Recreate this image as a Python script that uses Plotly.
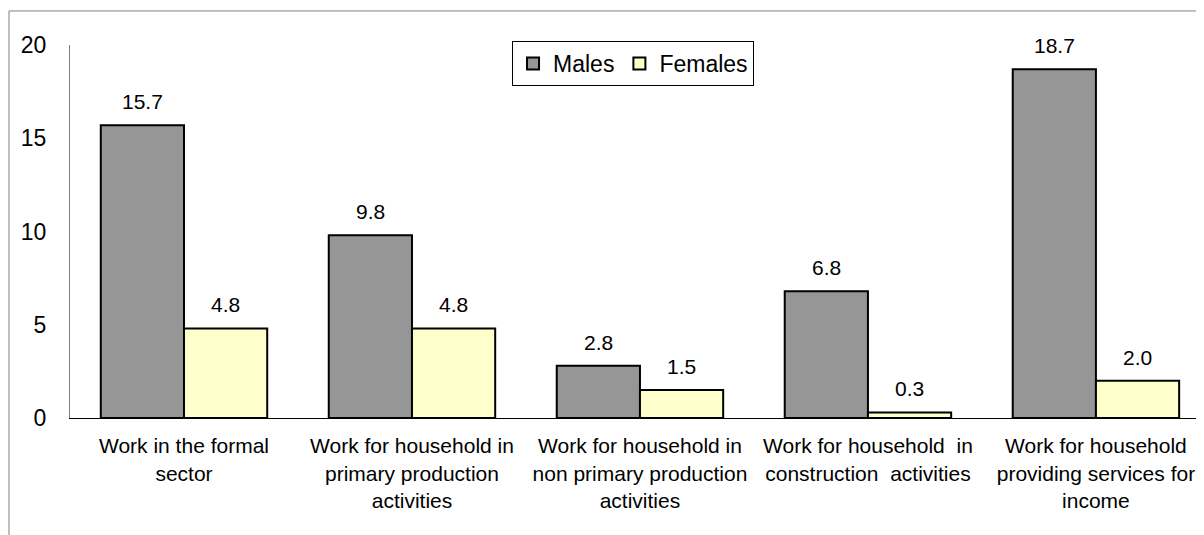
import plotly.graph_objects as go

categories = [
    "Work in the formal<br>sector",
    "Work for household in<br>primary production<br>activities",
    "Work for household in<br>non primary production<br>activities",
    "Work for household  in<br>construction  activities",
    "Work for household<br>providing services for<br>income",
]
males = [15.7, 9.8, 2.8, 6.8, 18.7]
females = [4.8, 4.8, 1.5, 0.3, 2.0]
y_ticks = [0, 5, 10, 15, 20]

FONT = "Liberation Sans, Arial, sans-serif"
BARGAP = 0.27
bar_w = (1 - BARGAP) / 2

fig = go.Figure()
fig.add_trace(go.Bar(
    x=list(range(len(categories))), y=males, name="Males",
    marker=dict(color="#969696", line=dict(color="black", width=2)),
))
fig.add_trace(go.Bar(
    x=list(range(len(categories))), y=females, name="Females",
    marker=dict(color="#FFFFCC", line=dict(color="black", width=2)),
))

# value labels above the bars
for i, (m, f) in enumerate(zip(males, females)):
    for val, off in ((m, -bar_w / 2), (f, bar_w / 2)):
        fig.add_annotation(
            x=i + off, y=val, text=f"{val:.1f}", showarrow=False,
            yanchor="bottom", yshift=10,
            font=dict(family=FONT, size=21, color="black"),
        )

# outer chart border (left/top visible, rest runs off the page)
fig.add_shape(type="rect", xref="paper", yref="paper",
              x0=-0.0538, x1=1.05, y0=-0.6, y1=1.0912,
              line=dict(color="#808080", width=1))

fig.update_layout(
    width=1196, height=527,
    margin=dict(l=62, r=0, t=37, b=117),
    paper_bgcolor="white", plot_bgcolor="white",
    barmode="group", bargap=BARGAP, bargroupgap=0,
    font=dict(family=FONT, size=21, color="black"),
    legend=dict(
        orientation="h", x=0.3898, y=1.0107, xanchor="left", yanchor="top",
        bordercolor="black", borderwidth=1, font=dict(size=23),
        bgcolor="white",
    ),
    xaxis=dict(
        tickmode="array", tickvals=list(range(len(categories))),
        ticktext=categories, range=[-0.5, 4.474],
        showline=True, linecolor="black", linewidth=1,
        showgrid=False, zeroline=False, ticks="",
        ticklabelstandoff=9, tickfont=dict(size=21),
    ),
    yaxis=dict(
        range=[0, 20], tickvals=y_ticks,
        showline=True, linecolor="#808080", linewidth=1,
        showgrid=False, zeroline=False, ticks="",
        ticklabelstandoff=18, tickfont=dict(size=23),
    ),
)

fig.write_html("out.html")
